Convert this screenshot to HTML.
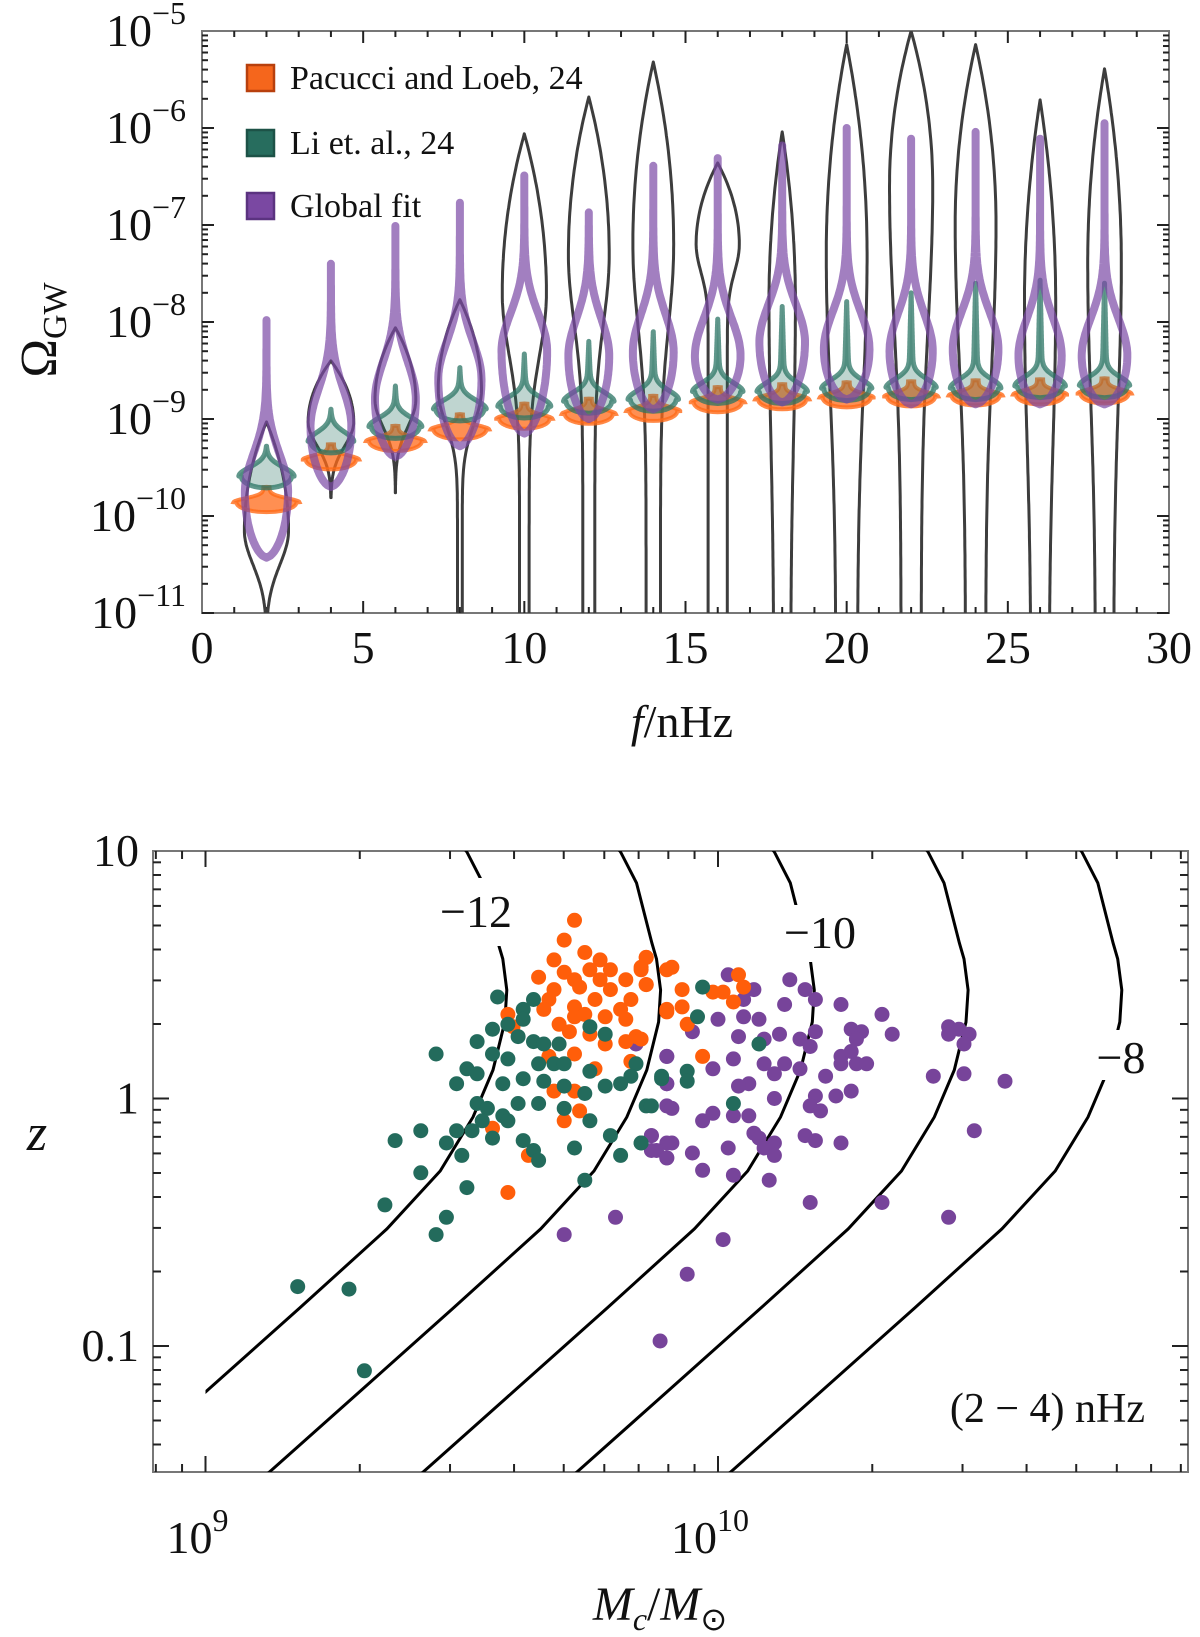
<!DOCTYPE html>
<html><head><meta charset="utf-8"><style>
html,body{margin:0;padding:0;background:#fff;}
svg{display:block;font-family:"Liberation Serif",serif;}
text{font-family:"Liberation Serif",serif;fill:#111;}
</style></head><body>
<svg id="fig" width="1200" height="1637" viewBox="0 0 1200 1637" xmlns="http://www.w3.org/2000/svg" font-family="Liberation Serif, serif">
<defs>
<clipPath id="topclip"><rect x="202" y="31" width="967" height="582"/></clipPath>
<clipPath id="botclip"><rect x="205.5" y="851" width="983" height="621"/></clipPath>
<clipPath id="botclip2"><rect x="153" y="851" width="1035" height="621"/></clipPath>
</defs>
<g id="top"></g>
<g id="bot"></g>
</svg>
<script>
// ---------------- TOP CHART DATA ----------------
const freqs=[2,4,6,8,10,12,14,16,18,20,22,24,26,28];
const purpleTop=[-7.98,-7.40,-7.01,-6.77,-6.49,-6.87,-6.39,-6.31,-6.18,-6.0,-6.11,-6.04,-6.11,-5.95];
const purplePeak=[-9.75,-9.08,-8.80,-8.59,-8.30,-8.35,-8.31,-8.35,-8.21,-8.28,-8.30,-8.28,-8.35,-8.35];
const purpleBot=[-10.43,-9.70,-9.39,-9.28,-9.15,-9.0,-8.90,-8.80,-8.83,-8.80,-8.85,-8.85,-8.85,-8.85];
const purpleWidth=[0.9,0.85,0.85,0.9,0.95,0.85,0.85,0.95,0.95,0.95,0.9,0.95,0.9,0.95];
const grayTop=[-9.03,-8.40,-8.06,-7.77,-6.06,-5.68,-5.32,-6.36,-6.04,-5.14,-5.0,-5.14,-5.71,-5.39];
const grayPeak=[-10.15,-9.03,-8.8,-8.7,-7.7,-7.3,-7.2,-7.2,-7.8,-7.3,-6.6,-7.0,-7.8,-7.4];
const grayWidth=[0.92,0.95,0.85,0.9,0.92,0.85,0.85,0.9,0.55,0.85,0.9,0.85,0.65,0.7];
const grayFall=[0.5,0.35,0.4,0.5,0.9,1.0,1.2,0.4,2,2,2,2,2,2];
const grayBotWidth=[0,0,0,0.1,0.2,0.25,0.3,0.4,0.35,0.45,0.42,0.42,0.38,0.38];
const grayBot=[-11.1,-9.81,-9.76,-11.4,-11.4,-11.4,-11.4,-11.4,-11.4,-11.4,-11.4,-11.4,-11.4,-11.4];
const greenTop=[-9.28,-8.9,-8.66,-8.47,-8.33,-8.2,-8.10,-7.97,-7.84,-7.79,-7.7,-7.6,-7.57,-7.6];
const greenPeak=[-9.59,-9.23,-9.08,-8.90,-8.87,-8.82,-8.80,-8.72,-8.72,-8.69,-8.68,-8.68,-8.66,-8.66];
const greenWidth=[1.05,0.85,1.0,1.0,1.0,0.95,0.95,0.95,0.95,0.95,0.95,0.95,0.95,0.95];
const orangePeak=[-9.86,-9.42,-9.23,-9.11,-9.0,-8.95,-8.92,-8.83,-8.80,-8.78,-8.77,-8.76,-8.75,-8.74];
const orangeWidth=[1.25,1.05,1.1,1.1,1.05,1.0,1.0,1.0,1.0,1.0,1.0,1.0,1.0,1.0];
const xTicks=[0,5,10,15,20,25,30];
const yTicks=[-5,-6,-7,-8,-9,-10,-11];

// ---------------- BOTTOM CHART DATA (log10 M, log10 z) ----------------
const contourLevels=["−12","−11","−10","−9","−8"];
const contourShift=[0,0.3,0.6,0.9,1.2];
const contourLogM=[8.77,9.0,9.184,9.354,9.458,9.522,9.561,9.584,9.588,9.580,9.571,9.541,9.510,9.49];
const contourLogZ=[-1.61,-1.186,-0.846,-0.527,-0.293,-0.075,0.115,0.309,0.438,0.564,0.628,0.871,0.996,1.05];
const orangeM=[9.72,9.70,9.74,9.77,9.68,9.79,9.75,9.70,9.86,9.85,9.90,9.65,9.72,9.77,9.82,9.86,9.68,9.73,9.79,9.83,9.67,9.76,9.72,9.81,9.66,9.74,9.78,9.82,9.72,9.69,9.71,9.75,9.82,9.84,9.78,9.59,9.60,9.67,9.72,9.76,9.83,9.68,9.72,9.73,9.70,9.56,9.63,9.59,9.90,9.86,9.85,9.91,9.86,9.93,9.99,10.01,10.04,10.05,10.03,9.90,9.93,9.94,9.97,9.85];
const orangeZ=[0.72,0.64,0.59,0.56,0.56,0.52,0.52,0.51,0.57,0.53,0.52,0.49,0.48,0.48,0.48,0.46,0.44,0.45,0.44,0.40,0.40,0.40,0.37,0.36,0.36,0.34,0.33,0.32,0.33,0.30,0.27,0.26,0.23,0.25,0.22,0.34,0.29,0.17,0.18,0.12,0.15,0.03,0.03,-0.05,-0.09,-0.12,-0.23,-0.38,0.35,0.57,0.52,0.53,0.46,0.44,0.43,0.43,0.50,0.45,0.39,0.36,0.37,0.30,0.17,0.24];
const greenM=[9.57,9.64,9.62,9.62,9.59,9.56,9.53,9.61,9.64,9.66,9.69,9.75,9.78,9.45,9.56,9.59,9.65,9.68,9.70,9.51,9.53,9.49,9.58,9.62,9.66,9.75,9.84,9.83,9.81,9.78,9.70,9.74,9.89,9.53,9.55,9.61,9.65,9.70,9.58,9.59,9.54,9.75,9.86,9.49,9.52,9.42,9.37,9.47,9.56,9.62,9.64,9.50,9.65,9.72,9.79,9.85,9.81,9.42,9.74,9.51,9.35,9.47,9.45,9.97,9.96,10.08,9.94,9.89,9.94,9.87,10.03,9.85,9.18,9.28,9.31];
const greenZ=[0.41,0.40,0.36,0.32,0.30,0.28,0.23,0.25,0.23,0.22,0.22,0.29,0.26,0.18,0.18,0.16,0.14,0.14,0.14,0.12,0.10,0.06,0.06,0.08,0.07,0.11,0.14,0.09,0.06,0.05,0.05,0.02,0.08,-0.02,-0.04,-0.02,-0.02,-0.04,-0.07,-0.09,-0.09,-0.09,-0.03,-0.13,-0.13,-0.13,-0.17,-0.18,-0.16,-0.17,-0.21,-0.23,-0.25,-0.20,-0.15,-0.18,-0.23,-0.30,-0.33,-0.36,-0.43,-0.48,-0.55,0.45,0.33,0.22,0.11,0.09,0.07,-0.03,-0.02,-0.18,-0.76,-0.77,-1.10];
const purpleM=[9.84,9.90,9.90,9.90,9.87,9.90,9.88,9.90,9.80,9.70,10.02,10.07,10.14,10.17,10.19,10.13,10.24,10.05,10.00,10.05,10.08,9.95,10.04,10.09,10.12,10.16,10.19,10.18,9.90,10.03,9.99,10.09,10.11,10.13,10.16,10.26,10.28,10.27,10.32,10.34,10.24,10.21,10.24,10.27,10.29,10.26,10.45,10.47,10.45,10.49,10.48,10.42,10.48,10.56,9.90,10.06,10.04,10.11,10.19,10.23,10.26,10.18,10.20,9.91,9.99,9.97,10.03,10.06,10.07,10.08,10.17,10.19,10.24,10.50,9.87,9.87,9.91,9.95,9.90,10.02,10.09,10.11,10.11,9.97,10.03,10.10,10.18,10.32,10.45,10.01,9.887,9.94];
const purpleZ=[0.22,0.17,0.06,-0.03,-0.15,-0.18,-0.21,-0.24,-0.48,-0.55,0.50,0.44,0.48,0.44,0.40,0.38,0.38,0.40,0.32,0.33,0.32,0.27,0.25,0.24,0.26,0.24,0.27,0.21,0.17,0.16,0.12,0.14,0.10,0.14,0.12,0.28,0.27,0.24,0.34,0.26,0.17,0.09,0.14,0.14,0.14,0.19,0.29,0.28,0.26,0.26,0.22,0.09,0.10,0.07,0.06,0.06,0.05,0.00,0.01,0.01,0.03,-0.03,-0.05,-0.04,-0.06,-0.09,-0.07,-0.07,-0.14,-0.16,-0.15,-0.17,-0.18,-0.13,-0.15,-0.21,-0.18,-0.22,-0.24,-0.20,-0.20,-0.18,-0.23,-0.29,-0.31,-0.33,-0.42,-0.42,-0.48,-0.57,-0.98,-0.71];
const yTicksBot=[1,0,-1];
const yTickLabelsBot=["10","1","0.1"];
const xTicksBot=[9,10];

// ---------------- helpers ----------------
const NS="http://www.w3.org/2000/svg";
const FF="Liberation Serif, serif";
function mk(tag,attrs,parent){const e=document.createElementNS(NS,tag);for(const k in attrs)e.setAttribute(k,attrs[k]);if(tag==='text')e.setAttribute('font-family',FF);if(parent)parent.appendChild(e);return e;}
const topG=document.getElementById('top');
const botG=document.getElementById('bot');

const TX=f=>202+f*(967/30);
const TY=L=>31+(-5-L)*97;
const VW=24;

function violin(cx,hwFn,uTop,uBot){
  const N=120,R=[],Lf=[];
  for(let i=0;i<=N;i++){const u=uTop+(uBot-uTop)*i/N;const h=Math.max(0,hwFn(u));R.push([cx+h,TY(u)]);Lf.push([cx-h,TY(u)]);}
  const pts=R.concat(Lf.reverse());
  return 'M'+pts.map(p=>p[0].toFixed(1)+','+p[1].toFixed(1)).join('L')+'Z';
}

const topFrame=mk('rect',{x:202,y:31,width:967,height:582,fill:'none',stroke:'#777','stroke-width':2},topG);


const tickG=mk('g',{stroke:'#222','stroke-width':2},topG);


for(let d=-11;d<-5;d++){for(let m=1;m<10;m++){const y=TY(d+Math.log10(m));const len=m===1?12:6;mk('line',{x1:202,x2:202+len,y1:y,y2:y},tickG);mk('line',{x1:1169,x2:1169-len,y1:y,y2:y},tickG);}}
for(let f=1;f<30;f++){const x=TX(f);const len=f%5===0?12:6;mk('line',{x1:x,x2:x,y1:613,y2:613-len},tickG);mk('line',{x1:x,x2:x,y1:31,y2:31+len},tickG);}
yTicks.forEach(v=>{
  const t=mk('text',{x:186,y:TY(v)+15,'text-anchor':'end','font-size':46},topG);
  
  
  t.appendChild(document.createTextNode('10'));
  const s=mk('tspan',{dy:-22,'font-size':32},t);s.textContent='−'+(-v);
});
xTicks.forEach(v=>{
  const t=mk('text',{x:TX(v),y:663,'text-anchor':'middle','font-size':46},topG);
  
  
  t.textContent=v;
});
const yt=mk('text',{x:0,y:0,'font-size':52,transform:'translate(56,330) rotate(-90)','text-anchor':'middle'},topG);


yt.appendChild(document.createTextNode('Ω'));
const ys=mk('tspan',{dy:10,'font-size':34},yt);ys.textContent='GW';
const xt=mk('text',{x:682,y:737,'text-anchor':'middle','font-size':46},topG);


const xf=mk('tspan',{'font-style':'italic'},xt);xf.textContent='f';
xt.appendChild(document.createTextNode('/nHz'));

const vg=mk('g',{'clip-path':'url(#topclip)'},topG);


freqs.forEach((f,i)=>{
  const cx=TX(f);
  const gW=grayWidth[i]*VW,gB=grayBotWidth[i]*VW,gp=grayPeak[i],gt=grayTop[i],gf=grayFall[i];
  const gfn=u=>{ if(u>=gp){const t=(u-gp)/(gt-gp);return gW*Math.pow(Math.max(0,1-t*t),1.0);} return gB+(gW-gB)*Math.exp(-Math.pow((gp-u)/gf,2)); };
  const gpth=mk('path',{d:violin(cx,gfn,gt,grayBot[i]),fill:'none',stroke:'#3d3d3d','stroke-width':3,'stroke-linejoin':'round'},vg);
  
  
  const oW=orangeWidth[i]*VW,op=orangePeak[i];
  const ofn=u=>{ if(u>=op){return oW*Math.exp(-Math.pow((u-op)/0.06,2))+(u<op+0.16?3:0);} const t=(op-u)/0.1;return oW*Math.pow(Math.max(0,1-t*t),0.5); };
  const opth=mk('path',{d:violin(cx,ofn,op+0.16,op-0.1),fill:'#ff6a18','fill-opacity':0.75,stroke:'#ff6a18','stroke-opacity':0.8,'stroke-width':4},vg);
  
  
  const eW=greenWidth[i]*VW,ep=greenPeak[i],et=greenTop[i];
  const efn=u=>{ if(u>=ep){return eW*Math.exp(-Math.pow((u-ep)/0.13,2))+2.5*(1-(u-ep)/(et-ep));} const t=(ep-u)/0.12;return eW*Math.pow(Math.max(0,1-t*t),0.5); };
  const epth=mk('path',{d:violin(cx,efn,et,ep-0.12),fill:'#2b7464','fill-opacity':0.3,stroke:'#2b7464','stroke-opacity':0.75,'stroke-width':5,'stroke-linejoin':'round'},vg);
  
  
  const pW=purpleWidth[i]*VW,pp=purplePeak[i],pb=purpleBot[i];
  const pfn=u=>{ if(u>=pp){return pW*Math.exp(-Math.pow((u-pp)/0.55,2));} const t=(pp-u)/(pp-pb);return pW*Math.pow(Math.max(0,1-t*t),0.6); };
  const ppth=mk('path',{d:violin(cx,pfn,purpleTop[i],pb),fill:'none',stroke:'#7a49a5','stroke-opacity':0.7,'stroke-width':8,'stroke-linejoin':'round'},vg);
  
  
});

const legendNames=['Pacucci and Loeb, 24','Li et. al., 24','Global fit'];
const legendFill=['#f5661c','#276d5e','#7a48a2'];
const legendStroke=['#b8400d','#1d5247','#5b3380'];
const legendY=[78,143,206];
const lg=mk('g',{},topG);


legendNames.forEach((n,i)=>{
  const r=mk('rect',{x:247,y:legendY[i]-13,width:27,height:26,fill:legendFill[i],stroke:legendStroke[i],'stroke-width':2.5},lg);
  
  
  const t=mk('text',{x:290,y:legendY[i]+11,'font-size':34},lg);
  
  
  t.textContent=n;
});

// ---------------- bottom chart ----------------
const BX=lm=>205.5+(lm-9)*512.5;
const BY=lz=>851+(1-lz)*247.5;
const bf=mk('rect',{x:153,y:851,width:1035,height:621,fill:'none',stroke:'#777','stroke-width':2},botG);


const btg=mk('g',{stroke:'#222','stroke-width':2},botG);


for(let d=-2;d<1;d++){for(let m=1;m<10;m++){const lz=d+Math.log10(m);if(lz< -1.509||lz>1)continue;const y=BY(lz);const len=m===1?16:8;mk('line',{x1:153,x2:153+len,y1:y,y2:y},btg);mk('line',{x1:1188,x2:1188-len,y1:y,y2:y},btg);}}
for(let d=8;d<11;d++){for(let m=1;m<10;m++){const lm=d+Math.log10(m);const x=BX(lm);if(x<155||x>1186)continue;const len=m===1?16:8;mk('line',{x1:x,x2:x,y1:1472,y2:1472-len},btg);mk('line',{x1:x,x2:x,y1:851,y2:851+len},btg);}}
yTicksBot.forEach((v,i)=>{
  const t=mk('text',{x:139,y:BY(v)+15,'text-anchor':'end','font-size':46},botG);
  
  
  t.textContent=yTickLabelsBot[i];
});
xTicksBot.forEach(v=>{
  const t=mk('text',{x:BX(v)-8,y:1553,'text-anchor':'middle','font-size':46},botG);
  
  
  t.appendChild(document.createTextNode('10'));
  const s=mk('tspan',{dy:-22,'font-size':32},t);s.textContent=String(v);
});
const zt=mk('text',{x:37,y:1150,'text-anchor':'middle','font-size':52,'font-style':'italic'},botG);


zt.textContent='z';
const mt=mk('text',{x:660,y:1620,'text-anchor':'middle','font-size':48},botG);


const m1=mk('tspan',{'font-style':'italic'},mt);m1.textContent='M';
const m2=mk('tspan',{'font-style':'italic',dy:10,'font-size':32},mt);m2.textContent='c';
const m3=mk('tspan',{dy:-10},mt);m3.textContent='/';
const m4=mk('tspan',{'font-style':'italic'},mt);m4.textContent='M';
const m5=mk('tspan',{dy:10,'font-size':32,'font-family':'DejaVu Sans, sans-serif'},mt);m5.textContent='⊙';

const cg=mk('g',{'clip-path':'url(#botclip)',fill:'none',stroke:'#000','stroke-width':3},botG);


contourShift.forEach((s,k)=>{
  const d='M'+contourLogM.map((m,j)=>BX(m+s).toFixed(1)+','+BY(contourLogZ[j]).toFixed(1)).join('L');
  const p=mk('path',{d:d},cg);
  
  
});
const clabels=[{t:contourLevels[0],x:476,y:927,rx:[440,520,878,946]},{t:contourLevels[2],x:820,y:948,rx:[778,864,905,962]},{t:contourLevels[4],x:1121,y:1073,rx:[1092,1152,1030,1080]}];
clabels.forEach(c=>{
  const r=mk('rect',{x:c.rx[0],y:c.rx[2],width:c.rx[1]-c.rx[0],height:c.rx[3]-c.rx[2],fill:'#fff'},botG);
  
  
  const t=mk('text',{x:c.x,y:c.y,'text-anchor':'middle','font-size':46},botG);
  
  
  t.textContent=c.t;
});
const sg=mk('g',{'clip-path':'url(#botclip2)'},botG);


function dots(M,Z,col,name){M.forEach((m,i)=>{const c=mk('circle',{cx:BX(m).toFixed(1),cy:BY(Z[i]).toFixed(1),r:7.5,fill:col},sg);

});}
dots(purpleM,purpleZ,'#77449a','global-fit-point');
dots(orangeM,orangeZ,'#ff5e0a','pacucci-point');
dots(greenM,greenZ,'#236b5c','li-point');
const ft=mk('text',{x:1145,y:1422,'text-anchor':'end','font-size':42},botG);


ft.textContent='(2 − 4) nHz';
</script>
</body></html>
